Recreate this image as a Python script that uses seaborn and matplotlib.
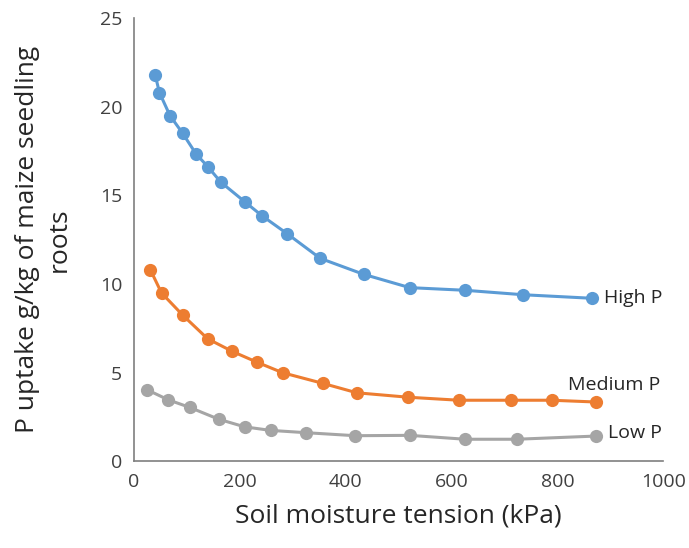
import seaborn as sns
import matplotlib.pyplot as plt
import pandas as pd

# readings taken off the reference chart
high_x = [40, 48, 68, 92, 117, 140, 164, 209, 242, 289, 352, 434, 521, 626, 735, 865]
high_y = [21.8, 20.8, 19.5, 18.5, 17.35, 16.6, 15.75, 14.65, 13.85, 12.85, 11.45, 10.55, 9.8, 9.65, 9.4, 9.2]

med_x = [31, 52, 92, 139, 186, 232, 281, 357, 421, 518, 614, 712, 789, 873]
med_y = [10.8, 9.5, 8.25, 6.92, 6.2, 5.6, 5.0, 4.4, 3.87, 3.62, 3.45, 3.45, 3.45, 3.35]

low_x = [24, 65, 105, 160, 209, 258, 325, 418, 521, 626, 723, 873]
low_y = [4.05, 3.47, 3.05, 2.38, 1.95, 1.75, 1.62, 1.45, 1.47, 1.25, 1.25, 1.43]

series = {
    "High P": (high_x, high_y, "#5B9BD5"),
    "Medium P": (med_x, med_y, "#ED7D31"),
    "Low P": (low_x, low_y, "#A5A5A5"),
}

sns.set_style("white")
plt.rcParams["font.family"] = ["Open Sans", "DejaVu Sans"]

fig = plt.figure(figsize=(6.89, 5.48), dpi=100)
ax = fig.add_axes([0.1945, 0.158, 0.768, 0.809])

for name, (xs, ys, col) in series.items():
    df = pd.DataFrame({"x": xs, "y": ys})
    sns.lineplot(data=df, x="x", y="y", ax=ax, color=col, marker="o",
                 markersize=9.5, markeredgewidth=0, linewidth=2.2, sort=False)

ax.text(888, 9.2, "High P", fontsize=14, va="center", ha="left", color="#262626")
ax.text(820, 4.32, "Medium P", fontsize=14, va="center", ha="left", color="#262626")
ax.text(896, 1.6, "Low P", fontsize=14, va="center", ha="left", color="#262626")

ax.set_xlim(0, 1000)
ax.set_ylim(0, 25)
ax.set_xticks(range(0, 1001, 200))
ax.set_xticks(range(0, 1001, 100), minor=True)
ax.set_yticks(range(0, 26, 5))
ax.set_yticks([i * 2.5 for i in range(11)], minor=True)
ax.tick_params(axis="both", which="both", direction="out", length=5,
               color="#7f7f7f", labelsize=14, labelcolor="#404040")
ax.tick_params(axis="both", which="minor", labelleft=False, labelbottom=False)

for s in ["top", "right"]:
    ax.spines[s].set_visible(False)
for s in ["left", "bottom"]:
    ax.spines[s].set_color("#7f7f7f")
    ax.spines[s].set_linewidth(1.2)

ax.set_xlabel("Soil moisture tension (kPa)", fontsize=19, color="#262626")
ax.set_ylabel("P uptake g/kg of maize seedling\nroots", fontsize=19, color="#262626",
              linespacing=1.35)
ax.xaxis.set_label_coords(0.5, -0.094)
ax.yaxis.set_label_coords(-0.117, 0.5)

fig.savefig("out.png", dpi=100)
